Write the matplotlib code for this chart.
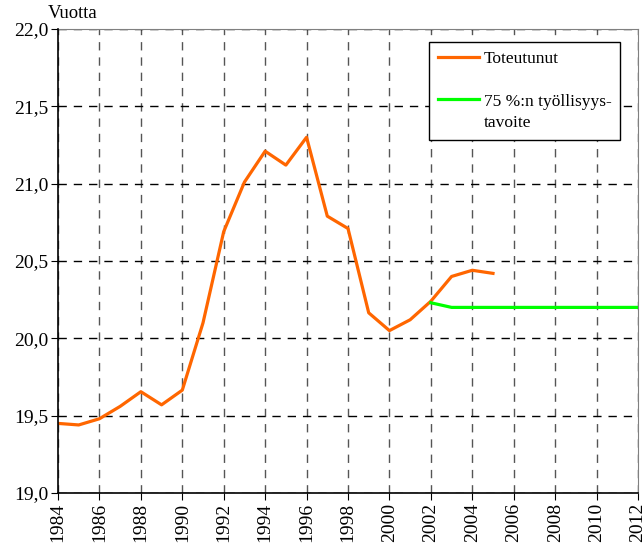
import matplotlib.pyplot as plt
from matplotlib.lines import Line2D
from matplotlib.ticker import FuncFormatter

plt.rcParams['font.family'] = ['Liberation Serif', 'DejaVu Serif']

years_actual = list(range(1984, 2006))
actual = [19.45, 19.44, 19.48, 19.56, 19.655, 19.57, 19.665, 20.10, 20.69, 21.01,
          21.21, 21.12, 21.30, 20.79, 20.71, 20.165, 20.05, 20.12, 20.24, 20.40,
          20.44, 20.42]
years_target = list(range(2002, 2013))
target = [20.23, 20.20, 20.20, 20.20, 20.20, 20.20, 20.20, 20.20, 20.20, 20.20, 20.20]

fig = plt.figure(figsize=(6.42, 5.46), dpi=100)
ax = fig.add_axes([58 / 642, 53 / 546, 580 / 642, 464 / 546])

l1, = ax.plot(years_actual, actual, color='#ff6600', lw=2.3, zorder=3)
l2, = ax.plot(years_target, target, color='#00ff00', lw=2.3, zorder=3)

ax.set_xlim(1984, 2012)
ax.set_ylim(19.0, 22.0)
ax.set_xticks(range(1984, 2013, 2))
ax.set_yticks([19.0, 19.5, 20.0, 20.5, 21.0, 21.5, 22.0])
ax.yaxis.set_major_formatter(FuncFormatter(lambda v, p: f'{v:.1f}'.replace('.', ',')))
ax.tick_params(axis='x', labelrotation=90, labelsize=14, length=5, direction='out', pad=2)
ax.tick_params(axis='y', labelsize=14, length=5, direction='out', pad=2)

ax.xaxis.grid(True, color='#555555', linestyle=(0, (6, 5)), lw=1)
ax.yaxis.grid(True, color='black', linestyle=(0, (6, 5)), lw=1)

for s in ['top', 'right']:
    ax.spines[s].set_color('#808080')
for s in ['left', 'bottom']:
    ax.spines[s].set_linewidth(1.2)
    ax.spines[s].set_zorder(4)

fig.text(48 / 642, 1 - 13 / 546, 'Vuotta', fontsize=13.5, va='center', ha='left')

blank = Line2D([], [], color='none')
leg = ax.legend([l1, blank, l2, blank],
                ['Toteutunut', ' ', '75 %:n työllisyys-', 'tavoite'],
                loc='upper left', bbox_to_anchor=(0.6397, 0.972), borderaxespad=0,
                fontsize=12.5, frameon=True, fancybox=False, edgecolor='black',
                framealpha=1, handlelength=2.4, handletextpad=0.25,
                labelspacing=0.3, borderpad=0.5)
leg.get_frame().set_linewidth(1)

plt.savefig('out.png', dpi=100)
